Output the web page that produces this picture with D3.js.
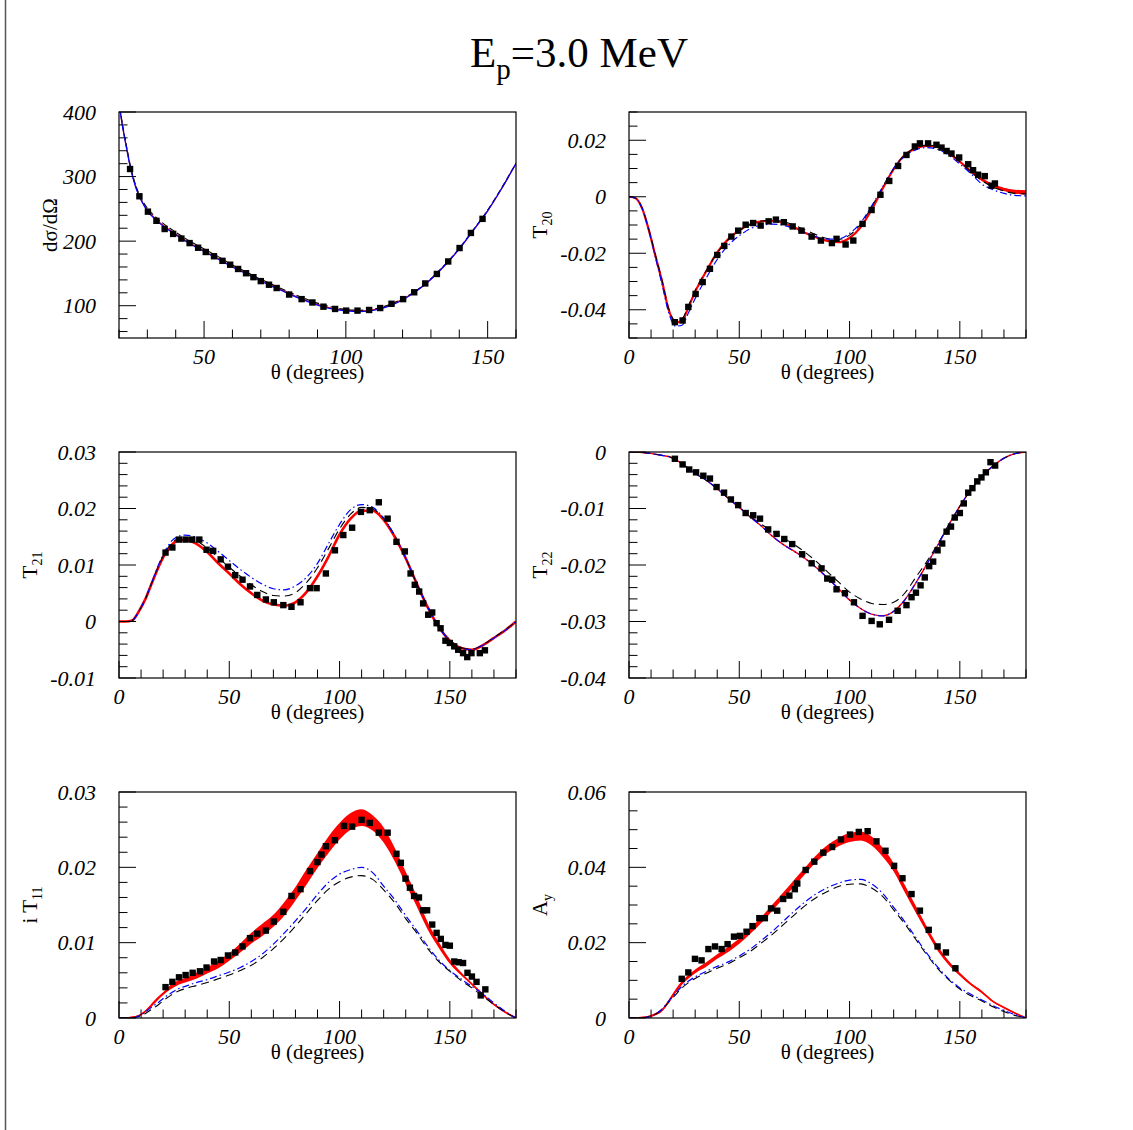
<!DOCTYPE html>
<html>
<head>
<meta charset="utf-8">
<script src="https://cdn.jsdelivr.net/npm/d3@7"></script>
<style>
body{margin:0;background:#fff;}
svg{display:block;}
</style>
</head>
<body>
<svg id="graph"></svg>
<script>
// ---------- data ----------
var thetaGrid = [0,3,6,9,12,15,18,21,24,27,30,35,40,45,50,55,60,65,70,75,80,85,90,95,100,105,110,115,120,125,130,135,140,145,150,155,160,165,170,175,180];

// d sigma / d Omega
var xsTheta = [20.3,21,22,23,24,26,28,30,33,36,40,45,50,55,60,65,70,75,80,85,90,95,100,105,110,115,120,125,130,135,140,145,150,155,160];
var xsRed   = [405,385,360,337,315,283,262,248,234,223,211,197,185,173,161,150,139,129,119,110,102,96,93,92,94,100,110,123,141,163,188,217,247,282,320];
var xsBlue  = [405,384,359,336,314,282,262,247,233,222,210,196,184,172,160,149,138,128,118,109,101,95,92,91,93,99,109,123,141,163,188,217,247,282,320];
var xsDash  = [407,387,362,339,317,285,265,251,237,226,214,200,188,176,163,152,141,131,121,112,104,98,94,93,95,101,111,124,142,164,189,218,248,283,321];
var xsDataTheta = [23.9,27.2,30.2,33.2,36.1,39.1,42,44.9,47.9,50.6,53.5,56.5,59.2,62,64.8,67.4,70,72.9,75.6,80,84.4,88.2,92.1,96.2,100.1,104.1,108.2,112.1,116.1,120.2,124.1,128,132.1,136.1,140.1,144.1,148.2];
var xsData      = [311.7,269.5,245.7,231.5,218.8,211.2,204,197,189.8,183.2,176.6,169.5,163.5,156.9,150.3,144.2,138.1,132.5,127.4,117.3,110.2,105,98.5,95,92.4,92.4,93.4,96.4,103,110.2,120.8,134.5,149.2,168.5,189.3,212.7,234.5];

// T20
var t20Red  = [0,-0.0005,-0.0042,-0.0118,-0.021,-0.030,-0.040,-0.0445,-0.044,-0.039,-0.0336,-0.0264,-0.0197,-0.015,-0.0119,-0.0097,-0.0087,-0.0085,-0.0093,-0.0109,-0.0128,-0.0144,-0.0156,-0.0161,-0.0146,-0.0108,-0.0046,0.0029,0.0098,0.0148,0.0171,0.018,0.0176,0.0154,0.0124,0.009,0.0061,0.0039,0.0026,0.0018,0.0015];
var t20Half = [0.0002,0.0002,0.0002,0.0002,0.0002,0.0002,0.0002,0.0002,0.0002,0.0002,0.0002,0.0002,0.0002,0.0002,0.0002,0.0002,0.0002,0.0002,0.0002,0.0002,0.0002,0.0002,0.0002,0.0002,0.0002,0.0002,0.0002,0.0002,0.0002,0.0002,0.0002,0.0002,0.0002,0.0002,0.0002,0.0004,0.0005,0.0006,0.0006,0.0007,0.0008];
var t20Blue = [0,-0.0005,-0.0042,-0.012,-0.0215,-0.031,-0.041,-0.0458,-0.0455,-0.041,-0.036,-0.0288,-0.0222,-0.0172,-0.0138,-0.0113,-0.0101,-0.0097,-0.0101,-0.0113,-0.0128,-0.0142,-0.015,-0.0149,-0.013,-0.0092,-0.0033,0.0035,0.01,0.0143,0.0166,0.0174,0.0168,0.0147,0.0116,0.0082,0.0045,0.0025,0.0012,0.0005,0.0003];
var t20Dash = [0,-0.0005,-0.0041,-0.0116,-0.0207,-0.0297,-0.0395,-0.0438,-0.0432,-0.0385,-0.0332,-0.0262,-0.0198,-0.0152,-0.012,-0.0098,-0.0086,-0.0083,-0.0088,-0.0101,-0.0118,-0.0135,-0.0148,-0.0151,-0.0136,-0.0097,-0.0036,0.0033,0.01,0.0148,0.0174,0.0183,0.0178,0.0157,0.0124,0.0088,0.0057,0.0035,0.002,0.0012,0.001];
var t20DataTheta = [20.8,24.3,26.9,30.2,33.4,36.7,40,43.2,46.4,49.5,52.9,56.3,59.7,63.3,66.6,70.2,74.2,78.2,82.8,87,92,94.1,98.2,101.7,105.9,110,114,118,122,125.8,129.6,131.9,135.6,139.4,141.7,144,146.2,149.7,153.8,156,158.3,161.3,164.4,165.9];
var t20Data      = [-0.0444,-0.0438,-0.039,-0.0344,-0.0302,-0.0255,-0.0206,-0.0174,-0.0141,-0.012,-0.0099,-0.0093,-0.0102,-0.0087,-0.0081,-0.009,-0.0105,-0.012,-0.0141,-0.0155,-0.0164,-0.0149,-0.0169,-0.0155,-0.0096,-0.0047,0.0007,0.0056,0.0109,0.0148,0.0178,0.0189,0.0189,0.0184,0.0174,0.0162,0.0153,0.0139,0.0115,0.0094,0.0078,0.0073,0.0039,0.0047];

// T21
var t21Red  = [0,0,0.0002,0.0018,0.004,0.0069,0.0097,0.012,0.0136,0.0144,0.0145,0.0138,0.0123,0.0103,0.0085,0.0066,0.005,0.0037,0.003,0.0028,0.0034,0.0052,0.008,0.0115,0.0154,0.0182,0.0196,0.0196,0.018,0.015,0.0112,0.0067,0.0025,-0.001,-0.0034,-0.0047,-0.005,-0.0042,-0.0029,-0.0016,0];
var t21Blue = [0,0,0.0002,0.0018,0.0041,0.0071,0.0101,0.0126,0.0143,0.0151,0.0153,0.0149,0.0139,0.0124,0.0108,0.0092,0.0078,0.0066,0.0058,0.0056,0.0063,0.0078,0.0103,0.0138,0.0172,0.0198,0.0207,0.0202,0.0183,0.0152,0.0112,0.0067,0.0025,-0.001,-0.0034,-0.0047,-0.005,-0.0042,-0.0029,-0.0016,0];
var t21Dash = [0,0,0.0002,0.0018,0.004,0.007,0.0099,0.0123,0.0139,0.0147,0.0148,0.0143,0.013,0.0113,0.0096,0.008,0.0065,0.0053,0.0046,0.0045,0.0051,0.0069,0.0095,0.0129,0.0164,0.019,0.0202,0.0199,0.0182,0.0151,0.0112,0.0067,0.0026,-0.0009,-0.0033,-0.0046,-0.0049,-0.0041,-0.0028,-0.0015,0];
var t21DataTheta = [21.1,24.2,27.2,30.2,33.2,36.4,39.7,42.7,46.1,49.4,52.7,56,59.4,62.7,66.6,70.2,74.5,78.2,82.3,86.6,89.6,93.8,97.9,101.7,105.7,109.7,113.7,117.8,121.8,125.8,129.6,132.2,134.1,136.1,137.9,140.2,142,144,145.8,148,150,152,153.8,156,157.9,159.8,163.6,165.9];
var t21Data      = [0.0122,0.0131,0.0145,0.0145,0.0145,0.0145,0.0127,0.0125,0.011,0.0097,0.0082,0.0074,0.0062,0.0047,0.0039,0.0034,0.0029,0.0026,0.0034,0.0059,0.0059,0.0085,0.0126,0.0153,0.0166,0.0194,0.0197,0.0211,0.0182,0.0141,0.0124,0.0085,0.0065,0.0053,0.0032,0.0012,0.0016,-0.0003,-0.0012,-0.0034,-0.0038,-0.0044,-0.005,-0.0056,-0.0063,-0.0056,-0.0056,-0.0051];

// T22
var t22Red  = [0,0,-0.0001,-0.0002,-0.0004,-0.0006,-0.0008,-0.0013,-0.0021,-0.0029,-0.0038,-0.005,-0.0065,-0.0082,-0.0098,-0.0115,-0.0131,-0.0149,-0.0164,-0.0176,-0.0189,-0.0205,-0.0223,-0.0242,-0.0262,-0.0277,-0.0287,-0.029,-0.0282,-0.0262,-0.0232,-0.0199,-0.0165,-0.0129,-0.0096,-0.0067,-0.0043,-0.0025,-0.0011,-0.0003,0];
var t22Blue = [0,0,-0.0001,-0.0002,-0.0004,-0.0006,-0.0008,-0.0013,-0.0021,-0.0029,-0.0038,-0.005,-0.0065,-0.0082,-0.0098,-0.0115,-0.0131,-0.0149,-0.0164,-0.0176,-0.0189,-0.0205,-0.0223,-0.0242,-0.0262,-0.0277,-0.0287,-0.029,-0.0282,-0.0262,-0.0232,-0.0199,-0.0165,-0.0129,-0.0096,-0.0067,-0.0043,-0.0025,-0.0011,-0.0003,0];
var t22Dash = [0,0,-0.0001,-0.0002,-0.0004,-0.0006,-0.0008,-0.0013,-0.0021,-0.0029,-0.0038,-0.005,-0.0065,-0.0082,-0.0098,-0.0114,-0.0128,-0.014,-0.0152,-0.0164,-0.0178,-0.0194,-0.0212,-0.023,-0.0248,-0.026,-0.0268,-0.027,-0.0266,-0.025,-0.0222,-0.0194,-0.0163,-0.0129,-0.0096,-0.0067,-0.0043,-0.0025,-0.0011,-0.0003,0];
var t22DataTheta = [20.8,24.3,27.3,30.4,33.7,36.7,39.7,43.1,46.2,49.5,52.9,56.3,59.4,63.1,66.9,70.4,74,78.5,82.8,87.3,89.9,92.1,94.1,97.9,102,105.9,110,113.7,117.9,121.8,125.8,128.1,130.1,132.2,134.1,136.1,137.9,139.9,142,144,146,147.7,150,151.8,153.8,155.7,157.9,159.8,161.8,163.9,166];
var t22Data      = [-0.0012,-0.0022,-0.0031,-0.0036,-0.0042,-0.0047,-0.0062,-0.0072,-0.0084,-0.0094,-0.0108,-0.0112,-0.0118,-0.0137,-0.0145,-0.0154,-0.0163,-0.0181,-0.0197,-0.0206,-0.0224,-0.0226,-0.0243,-0.025,-0.0266,-0.029,-0.0299,-0.0305,-0.0297,-0.0281,-0.0271,-0.0257,-0.0249,-0.0236,-0.0222,-0.0202,-0.0194,-0.0174,-0.0162,-0.0141,-0.0132,-0.0116,-0.0108,-0.0091,-0.0072,-0.0064,-0.0052,-0.0045,-0.0036,-0.0018,-0.0024];

// i T11
var it11Red  = [0,0,0.0001,0.0003,0.0009,0.0018,0.0027,0.0035,0.0042,0.0047,0.005,0.0056,0.0063,0.0071,0.0081,0.0093,0.0106,0.0117,0.0129,0.0145,0.0165,0.0187,0.0209,0.023,0.0248,0.0261,0.0266,0.0259,0.0243,0.0217,0.0186,0.0155,0.0122,0.0097,0.0075,0.0059,0.0045,0.0031,0.0018,0.0008,0];
var it11Half = [0.0001,0.0001,0.0001,0.0001,0.0001,0.0002,0.0002,0.0002,0.0003,0.0003,0.0003,0.0004,0.0004,0.0005,0.0005,0.0006,0.0007,0.0008,0.0008,0.0009,0.0009,0.001,0.001,0.0011,0.0011,0.0011,0.0011,0.001,0.001,0.0009,0.0008,0.0007,0.0005,0.0004,0.0003,0.0002,0.0001,0.0001,0.0001,0.0001,0.0001];
var it11Blue = [0,0,0,0.0003,0.0008,0.0015,0.0021,0.0028,0.0034,0.0039,0.0042,0.0047,0.0051,0.0056,0.0061,0.0067,0.0075,0.0085,0.0098,0.0113,0.0129,0.0146,0.0164,0.018,0.0191,0.0197,0.02,0.0193,0.0175,0.0157,0.0136,0.0116,0.0095,0.0077,0.0063,0.0052,0.0042,0.0032,0.002,0.0009,0];
var it11Dash = [0,0,0,0.0002,0.0006,0.0012,0.0018,0.0025,0.0031,0.0036,0.0039,0.0043,0.0047,0.0052,0.0057,0.0063,0.007,0.008,0.0092,0.0106,0.0122,0.0139,0.0156,0.0171,0.0181,0.0187,0.0189,0.0184,0.017,0.0153,0.0132,0.0113,0.0092,0.0075,0.0062,0.005,0.004,0.0029,0.0018,0.0008,0];
var it11DataTheta = [21.1,24.2,27.2,30.2,33.4,36.7,39.7,43.1,46.1,49.4,52.7,56,59.4,62.7,66.6,70.2,74.5,78.2,82.3,86.6,90,91.8,93.8,97.9,102,105.7,110,113.7,117.8,121.8,125.8,127.8,129.9,131.9,133.8,136,137.9,139.7,142,144,145.9,148,150,152,154,156,158,160,162.1,164,166.1];
var it11Data      = [0.0041,0.0048,0.0054,0.0057,0.006,0.0062,0.0067,0.0075,0.0077,0.0083,0.0087,0.0095,0.0106,0.0112,0.0116,0.0128,0.0141,0.0162,0.0171,0.0195,0.0207,0.0217,0.0228,0.0236,0.0255,0.0254,0.0263,0.0259,0.0246,0.0246,0.0218,0.0206,0.0185,0.0173,0.0162,0.016,0.0143,0.0143,0.0124,0.0113,0.0105,0.0097,0.0096,0.0075,0.0074,0.0073,0.006,0.0055,0.0048,0.003,0.0038];

// A_y
var ayRed  = [0,0,0.0001,0.0004,0.001,0.0021,0.0044,0.007,0.0093,0.011,0.0124,0.0142,0.0163,0.0182,0.0204,0.0231,0.026,0.0293,0.0326,0.0359,0.0392,0.0424,0.0449,0.0467,0.0479,0.0483,0.047,0.044,0.04,0.0344,0.0289,0.0235,0.0185,0.0146,0.0116,0.009,0.0069,0.0044,0.0028,0.0013,0];
var ayHalf = [0.0002,0.0002,0.0002,0.0002,0.0003,0.0003,0.0004,0.0005,0.0005,0.0005,0.0005,0.0006,0.0006,0.0007,0.0007,0.0007,0.0008,0.0008,0.0008,0.0009,0.0009,0.0009,0.001,0.0011,0.0012,0.0012,0.0012,0.0012,0.0011,0.001,0.0009,0.0008,0.0007,0.0005,0.0004,0.0003,0.0003,0.0002,0.0002,0.0002,0.0002];
var ayBlue = [0,0,0,0.0003,0.001,0.0024,0.0045,0.0065,0.0084,0.0098,0.0109,0.0124,0.0137,0.0149,0.0165,0.0183,0.0206,0.023,0.0257,0.0284,0.0309,0.033,0.0346,0.0358,0.0366,0.0368,0.0356,0.0331,0.0294,0.0256,0.0214,0.0172,0.0135,0.0104,0.008,0.0063,0.0048,0.0033,0.002,0.0009,0];
var ayDash = [0,0,0,0.0003,0.001,0.0023,0.0042,0.0061,0.008,0.0094,0.0105,0.0119,0.0132,0.0144,0.016,0.0177,0.0199,0.0222,0.0248,0.0274,0.0299,0.032,0.0336,0.0349,0.0355,0.0356,0.0345,0.0323,0.0287,0.025,0.0209,0.0168,0.0131,0.0101,0.0077,0.0059,0.0045,0.003,0.0017,0.0007,0];
var ayDataTheta = [23.9,26.9,29.9,32.9,36,39,42,44.7,47.6,50.3,53.3,56,59.1,61.6,64.4,67.2,69.9,72.7,75.2,76.3,80.1,84,88.1,92.1,96.1,100.2,104.2,108.2,112.2,116.3,120.2,124,128.1,131.9,135.9,139.9,143.7,148];
var ayData      = [0.0104,0.0121,0.0157,0.0153,0.0183,0.019,0.0183,0.0196,0.0216,0.0218,0.0229,0.0244,0.0265,0.0265,0.0291,0.0285,0.0316,0.0325,0.0342,0.0357,0.0393,0.0415,0.0439,0.0454,0.0474,0.0487,0.0494,0.0496,0.0469,0.0444,0.0404,0.0371,0.0329,0.0285,0.0234,0.019,0.0174,0.0132];

// tick labels
var xLabelsFull = [0,50,100,150];
var xLabelsXs   = [50,100,150];

// ---------- drawing ----------
var W = 1133, H = 1130;
var svg = d3.select("#graph").attr("width", W).attr("height", H);
var serif = "'Liberation Serif','Times New Roman',Times,serif";

// thin rule at the left edge of the canvas
svg.append("line")
   .attr("x1", 5.5).attr("x2", 5.5).attr("y1", 0).attr("y2", H)
   .attr("stroke", "#555").attr("stroke-width", 1.5);

// title
var title = svg.append("text")
   .attr("x", 579).attr("y", 67)
   .attr("text-anchor", "middle")
   .attr("font-family", serif)
   .attr("font-size", 43);
title.append("tspan").text("E");
title.append("tspan").attr("font-size", 29).attr("dy", 12).text("p");
title.append("tspan").attr("dy", -12).text("=3.0 MeV");

function zipXY(xs, ys){ return xs.map((x,i)=>({x:x, y:ys[i]})); }

var panels = [
  {left:119, top:112, xd:[20,160], yd:[50,400], xMaj:xLabelsXs, xStep:10, yMaj:[100,200,300,400], yStep:20,
   title:["dσ/dΩ",""], titleX:57, theta:xsTheta, red:xsRed, half:null, redW:1.2, blue:xsBlue, blueSolid:true, dash:xsDash,
   pth:xsDataTheta, pv:xsData},
  {left:629, top:112, xd:[0,180], yd:[-0.05,0.03], xMaj:xLabelsFull, xStep:10, yMaj:[-0.04,-0.02,0,0.02], yStep:0.005,
   title:["T","20"], titleX:547, theta:thetaGrid, red:t20Red, half:t20Half, redW:2.2, blue:t20Blue, dash:t20Dash,
   pth:t20DataTheta, pv:t20Data},
  {left:119, top:452, xd:[0,180], yd:[-0.01,0.03], xMaj:xLabelsFull, xStep:10, yMaj:[-0.01,0,0.01,0.02,0.03], yStep:0.002,
   title:["T","21"], titleX:37, theta:thetaGrid, red:t21Red, half:null, redW:2.6, blue:t21Blue, dash:t21Dash,
   pth:t21DataTheta, pv:t21Data},
  {left:629, top:452, xd:[0,180], yd:[-0.04,0], xMaj:xLabelsFull, xStep:10, yMaj:[-0.04,-0.03,-0.02,-0.01,0], yStep:0.002,
   title:["T","22"], titleX:547, theta:thetaGrid, red:t22Red, half:null, redW:1.4, blue:t22Blue, dash:t22Dash,
   pth:t22DataTheta, pv:t22Data},
  {left:119, top:792, xd:[0,180], yd:[0,0.03], xMaj:xLabelsFull, xStep:10, yMaj:[0,0.01,0.02,0.03], yStep:0.002,
   title:["i T","11"], titleX:37, theta:thetaGrid, red:it11Red, half:it11Half, redW:1.6, blue:it11Blue, dash:it11Dash,
   pth:it11DataTheta, pv:it11Data},
  {left:629, top:792, xd:[0,180], yd:[0,0.06], xMaj:xLabelsFull, xStep:10, yMaj:[0,0.02,0.04,0.06], yStep:0.005,
   title:["A","y"], titleX:547, theta:thetaGrid, red:ayRed, half:ayHalf, redW:1.6, blue:ayBlue, dash:ayDash,
   pth:ayDataTheta, pv:ayData}
];

var PW = 397, PH = 226;

panels.forEach(function(p, k){
    var x = d3.scaleLinear().domain(p.xd).range([p.left, p.left+PW]);
    var y = d3.scaleLinear().domain(p.yd).range([p.top+PH, p.top]);
    var g = svg.append("g");

    var clipId = "clip"+k;
    svg.append("clipPath").attr("id", clipId)
       .append("rect").attr("x", p.left).attr("y", p.top).attr("width", PW).attr("height", PH);
    var gc = g.append("g").attr("clip-path", "url(#"+clipId+")");

    var line = d3.line().x(d=>x(d.x)).y(d=>y(d.y)).curve(d3.curveMonotoneX);

    // red band / curve
    if(p.half){
        var area = d3.area()
            .x(d=>x(d.x))
            .y0(d=>y(d.y - d.h))
            .y1(d=>y(d.y + d.h))
            .curve(d3.curveMonotoneX);
        gc.append("path")
          .datum(p.theta.map((t,i)=>({x:t, y:p.red[i], h:p.half[i]})))
          .attr("fill", "#ff0000")
          .attr("d", area);
    }
    gc.append("path")
      .datum(zipXY(p.theta, p.red))
      .attr("fill", "none").attr("stroke", "#ff0000")
      .attr("stroke-width", p.redW)
      .attr("d", line);

    // black dashed
    gc.append("path")
      .datum(zipXY(p.theta, p.dash))
      .attr("fill", "none").attr("stroke", "#000")
      .attr("stroke-width", 1.1)
      .attr("stroke-dasharray", p.blueSolid ? "6,3" : "8,5")
      .attr("d", line);

    // blue dash-dot
    gc.append("path")
      .datum(zipXY(p.theta, p.blue))
      .attr("fill", "none").attr("stroke", "#0000ff")
      .attr("stroke-width", 1.2)
      .attr("stroke-dasharray", p.blueSolid ? null : "7,3,1.5,3")
      .attr("d", line);

    // data points
    g.selectAll("rect.pt")
     .data(zipXY(p.pth, p.pv))
     .join("rect")
     .attr("class", "pt")
     .attr("x", d=>x(d.x)-3.2)
     .attr("y", d=>y(d.y)-3.2)
     .attr("width", 6.4).attr("height", 6.4)
     .attr("fill", "#000");

    // frame
    g.append("rect")
     .attr("x", p.left).attr("y", p.top).attr("width", PW).attr("height", PH)
     .attr("fill", "none").attr("stroke", "#000").attr("stroke-width", 1.2);

    // ticks (inside, left and bottom only)
    var eps = 1e-9;
    var xMinor = d3.range(Math.ceil(p.xd[0]/p.xStep)*p.xStep, p.xd[1]+eps, p.xStep);
    var yMinor = d3.range(Math.ceil(p.yd[0]/p.yStep-eps)*p.yStep, p.yd[1]+eps, p.yStep);
    g.selectAll("line.xt")
     .data(xMinor)
     .join("line")
     .attr("x1", d=>x(d)).attr("x2", d=>x(d))
     .attr("y1", p.top+PH)
     .attr("y2", d=>p.top+PH-(p.xMaj.some(m=>Math.abs(m-d)<1e-6)?17:8.5))
     .attr("stroke", "#000").attr("stroke-width", 1);
    g.selectAll("line.yt")
     .data(yMinor)
     .join("line")
     .attr("y1", d=>y(d)).attr("y2", d=>y(d))
     .attr("x1", p.left)
     .attr("x2", d=>p.left+(p.yMaj.some(m=>Math.abs(m-d)<1e-9)?17:8.5))
     .attr("stroke", "#000").attr("stroke-width", 1);

    // tick labels
    g.selectAll("text.xl")
     .data(p.xMaj)
     .join("text")
     .attr("x", d=>x(d)).attr("y", p.top+PH+26)
     .attr("text-anchor", "middle")
     .attr("font-family", serif).attr("font-style", "italic").attr("font-size", 22)
     .text(d=>String(d));
    g.selectAll("text.yl")
     .data(p.yMaj)
     .join("text")
     .attr("x", p.left-23).attr("y", d=>y(d))
     .attr("dy", "0.35em")
     .attr("text-anchor", "end")
     .attr("font-family", serif).attr("font-style", "italic").attr("font-size", 22)
     .text(d=>String(d));

    // axis titles
    g.append("text")
     .attr("x", p.left+PW/2).attr("y", p.top+PH+41)
     .attr("text-anchor", "middle")
     .attr("font-family", serif).attr("font-size", 21)
     .text("θ (degrees)");

    var yt = g.append("text")
     .attr("transform", "translate("+p.titleX+","+(p.top+PH/2)+") rotate(-90)")
     .attr("text-anchor", "middle")
     .attr("font-family", serif).attr("font-size", 21);
    yt.append("tspan").text(p.title[0]);
    if(p.title[1]) yt.append("tspan").attr("font-size", 14).attr("dy", 5).text(p.title[1]);
});
</script>
</body>
</html>
